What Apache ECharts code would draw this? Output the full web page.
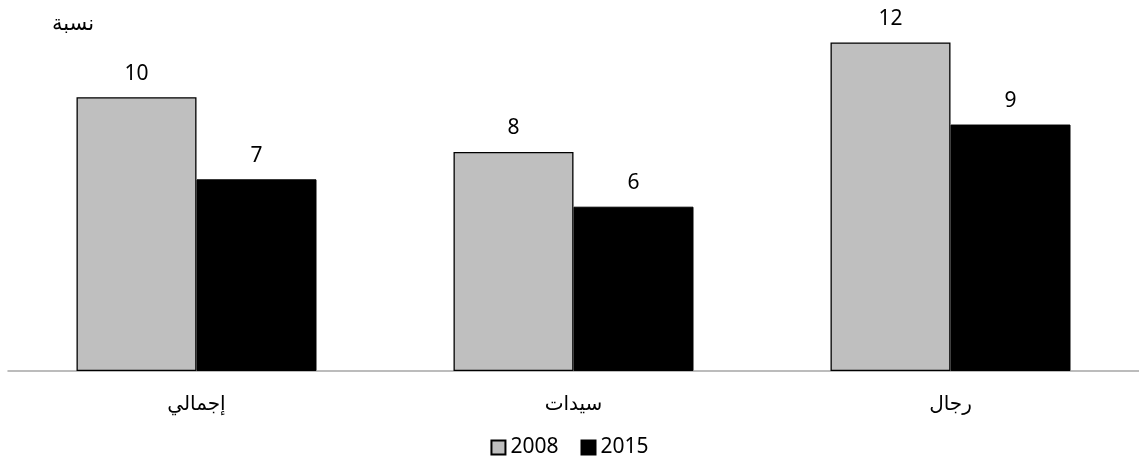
<!DOCTYPE html>
<html>
<head>
<meta charset="utf-8">
<script src="https://cdn.jsdelivr.net/npm/echarts@6/dist/echarts.min.js"></script>
<style>
  html, body { margin: 0; padding: 0; background: #fff; }
  #chart { width: 1139px; height: 467px; }
</style>
</head>
<body>
<div id="chart"></div>
<script>
// Categories: total, women, men
const categories = ['إجمالي', 'سيدات', 'رجال'];
const values2008 = [10, 8, 12];
const values2015 = [7, 6, 9];
const seriesNames = ['2008', '2015'];
const yAxisTitle = 'نسبة';

const FONT = '"Noto Sans", "DejaVu Sans", sans-serif';
const AR_FONT = '"DejaVu Sans", sans-serif';

const chart = echarts.init(document.getElementById('chart'));
chart.setOption({
  backgroundColor: '#ffffff',
  animation: false,
  textStyle: { fontFamily: FONT },
  grid: { left: 8, width: 1134, top: 15, bottom: 96 },
  legend: {
    data: seriesNames,
    top: 432,
    left: 'center',
    itemWidth: 14,
    itemHeight: 14,
    itemGap: 22,
    icon: 'rect',
    textStyle: { fontSize: 21, color: '#000', fontFamily: FONT, padding: [0, 0, 0, 0] }
  },
  graphic: [{
    type: 'text',
    left: 52,
    top: 14,
    style: { text: yAxisTitle, fontSize: 21, fill: '#000', fontFamily: AR_FONT }
  }],
  xAxis: {
    type: 'category',
    data: categories,
    axisLine: { lineStyle: { color: '#a6a6a6', width: 1.5 } },
    axisTick: { show: false },
    axisLabel: { color: '#000', fontSize: 20, margin: 24, fontFamily: AR_FONT }
  },
  yAxis: {
    type: 'value',
    min: 0,
    max: 13,
    show: false,
    splitLine: { show: false }
  },
  series: [
    {
      name: seriesNames[0],
      type: 'bar',
      data: values2008,
      barWidth: 120,
      barGap: '0%',
      itemStyle: { color: '#bfbfbf', borderColor: '#000', borderWidth: 1.3 },
      label: { show: true, position: 'top', distance: 13, color: '#000', fontSize: 21, fontFamily: FONT }
    },
    {
      name: seriesNames[1],
      type: 'bar',
      data: values2015,
      barWidth: 120,
      itemStyle: { color: '#000000', borderColor: '#000', borderWidth: 1 },
      label: { show: true, position: 'top', distance: 13, color: '#000', fontSize: 21, fontFamily: FONT }
    }
  ]
});
</script>
</body>
</html>
